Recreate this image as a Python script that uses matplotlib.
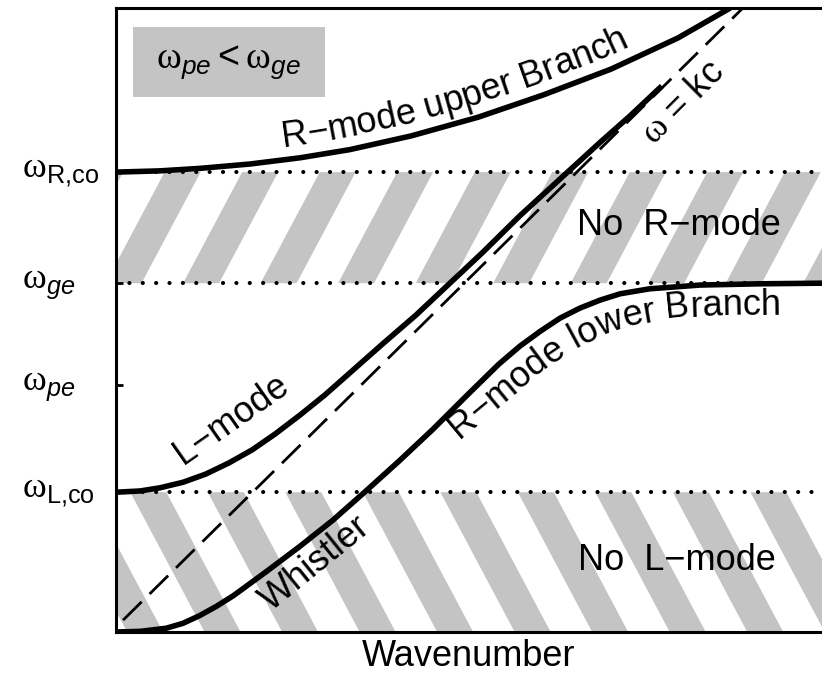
import numpy as np
import matplotlib
matplotlib.use('Agg')
import matplotlib.pyplot as plt
from matplotlib.patches import Rectangle
from matplotlib.font_manager import FontProperties, findfont
from matplotlib.ft2font import FT2Font

# ---------------- data (arbitrary units: wavenumber k 0..10, frequency w 0..10) -------------
w_Lco = 2.24
w_pe = 3.96
w_ge = 5.59
w_Rco = 7.37
levels = [w_Lco, w_pe, w_ge, w_Rco]
level_labels = [r'$\mathsf{\omega}_{\mathrm{L{,}co}}$', r'$\mathsf{\omega}_{pe}$',
                r'$\mathsf{\omega}_{ge}$', r'$\mathsf{\omega}_{\mathrm{R{,}co}}$']

# R-mode upper branch
k_upper = [0.00, 0.62, 1.19, 1.90, 2.61, 3.31, 4.18, 5.13, 6.06, 7.01, 7.96, 8.70]
w_upper = [7.37, 7.39, 7.43, 7.50, 7.60, 7.73, 7.95, 8.25, 8.61, 9.02, 9.52, 10.00]

# L-mode
k_L = [0.00, 0.34, 0.62, 0.95, 1.27, 1.60, 1.93, 2.25, 2.61, 2.96, 3.31, 3.78, 4.25,
       4.72, 5.20, 5.72, 6.29, 6.86, 7.28, 7.73]
w_L = [2.24, 2.26, 2.31, 2.40, 2.53, 2.71, 2.92, 3.17, 3.48, 3.80, 4.15, 4.62, 5.08,
       5.58, 6.09, 6.67, 7.26, 7.85, 8.27, 8.75]

# R-mode lower branch (whistler)
k_lower = [0.00, 0.34, 0.71, 0.95, 1.18, 1.42, 1.66, 2.12, 2.59, 3.07, 3.54, 4.01, 4.49,
           4.96, 5.42, 5.72, 6.01, 6.29, 6.57, 6.86, 7.14, 7.56, 8.27, 9.12, 10.00]
w_lower = [0.00, 0.01, 0.06, 0.14, 0.26, 0.41, 0.58, 0.96, 1.36, 1.79, 2.26, 2.74, 3.25,
           3.78, 4.29, 4.58, 4.82, 5.03, 5.19, 5.32, 5.42, 5.50, 5.56, 5.58, 5.59]

# light line w = kc
k_light = [0.10, 8.88]
w_light = [0.19, 10.00]

# baseline path of the "R-mode lower Branch" label
k_lowlab = [4.86, 6.01, 6.50, 6.93, 7.42, 7.99, 8.70, 9.90]
w_lowlab = [3.09, 4.17, 4.55, 4.78, 4.95, 5.05, 5.08, 5.10]

# ---------------- style ----------------
plt.rcParams['font.family'] = ['Liberation Sans', 'DejaVu Sans']
plt.rcParams['mathtext.fontset'] = 'custom'
plt.rcParams['mathtext.rm'] = 'Liberation Sans'
plt.rcParams['mathtext.it'] = 'Liberation Sans:italic'
plt.rcParams['mathtext.bf'] = 'Liberation Sans:bold'
plt.rcParams['mathtext.sf'] = 'Liberation Serif'

STIPPLE = '#c4c4c4'
LBL = 26

fig = plt.figure(figsize=(8.22, 6.8), dpi=100)
ax = fig.add_axes([116 / 822, 48 / 680, 706 / 822, 624 / 680])
ax.set_xlim(0, 10)
ax.set_ylim(0, 10)

# ---------------- striped (forbidden) bands ----------------
period, swidth, lean = 1.098, 0.51, 0.470
h = w_Rco - w_ge
for n in range(-3, 12):
    k0 = 0.95 + n * period
    ax.fill([k0, k0 + swidth, k0 + swidth + lean * h, k0 + lean * h],
            [w_ge, w_ge, w_Rco, w_Rco], color=STIPPLE, lw=0, zorder=1)
h = w_Lco
for n in range(-3, 12):
    k0 = 1.30 + n * period
    ax.fill([k0, k0 + swidth, k0 + swidth + lean * h, k0 + lean * h],
            [w_Lco, w_Lco, 0, 0], color=STIPPLE, lw=0, zorder=1)

# ---------------- dotted level lines ----------------
for lv in (w_Lco, w_ge, w_Rco):
    ax.axhline(lv, color='black', lw=3.0, linestyle=(0, (0.01, 3.2)),
               dash_capstyle='round', zorder=2)

# ---------------- curves ----------------
ax.plot(k_light, w_light, color='black', lw=2.0, linestyle=(0, (9.4, 4.0)), zorder=3)
ax.plot(k_upper, w_upper, color='black', lw=4.0, zorder=4, solid_capstyle='butt')
ax.plot(k_L, w_L, color='black', lw=4.0, zorder=4, solid_capstyle='butt')
ax.plot(k_lower, w_lower, color='black', lw=4.0, zorder=4, solid_capstyle='butt')


# ---------------- text along a path ----------------
def text_on_path(ax, s, k, w, k_start, offset, size, smooth=6):
    prop = FontProperties(family=['Liberation Sans', 'DejaVu Sans'], size=size)
    font = FT2Font(findfont(FontProperties(family='Liberation Sans')))
    font.set_size(size, fig.dpi)
    adv = []
    for ch in s:
        g = font.load_char(ord(ch))
        adv.append(g.linearHoriAdvance / 65536.0)
    cum = np.concatenate([[0], np.cumsum(adv)])
    P = ax.transData.transform(np.column_stack([k, w]))
    seg = np.hypot(*np.diff(P, axis=0).T)
    sa = np.concatenate([[0], np.cumsum(seg)])
    sd = np.linspace(0, sa[-1], 3000)
    X = np.interp(sd, sa, P[:, 0])
    Y = np.interp(sd, sa, P[:, 1])
    dx = np.gradient(X)
    dy = np.gradient(Y)
    nn = np.hypot(dx, dy)
    OX = X - offset * dy / nn
    OY = Y + offset * dx / nn
    so = np.concatenate([[0], np.cumsum(np.hypot(np.diff(OX), np.diff(OY)))])
    x0 = ax.transData.transform((k_start, 0))[0]
    i0 = int(np.argmin(np.abs(X - x0)))
    s0 = so[i0]
    inv = ax.transData.inverted()
    for i, ch in enumerate(s):
        if ch == ' ':
            continue
        c = s0 + (cum[i] + cum[i + 1]) / 2
        hh = max((cum[i + 1] - cum[i]) / 2, smooth)
        px, py = np.interp(c, so, OX), np.interp(c, so, OY)
        x1, y1 = np.interp(c - hh, so, OX), np.interp(c - hh, so, OY)
        x2, y2 = np.interp(c + hh, so, OX), np.interp(c + hh, so, OY)
        ang = np.degrees(np.arctan2(y2 - y1, x2 - x1))
        d = inv.transform((px, py))
        ax.text(d[0], d[1], ch, fontproperties=prop, rotation=ang,
                rotation_mode='anchor', ha='center', va='baseline', zorder=5)


text_on_path(ax, 'R\u2212mode upper Branch', k_upper, w_upper, 2.39, 13, LBL)
text_on_path(ax, 'R\u2212mode lower Branch', k_lowlab, w_lowlab, k_lowlab[0], 0, LBL, smooth=14)

ax.text(0.95, 2.68, 'L\u2212mode', rotation=35, rotation_mode='anchor',
        ha='left', va='baseline', fontsize=LBL, zorder=5)
ax.text(2.20, 0.32, 'Whistler', rotation=39, rotation_mode='anchor',
        ha='left', va='baseline', fontsize=LBL, zorder=5)
ax.text(8.03, 8.48, r'$\mathsf{\omega}$ = kc', rotation=45, rotation_mode='anchor',
        ha='center', va='center', fontsize=26, zorder=5)
ax.text(7.97, 6.51, 'No  R\u2212mode', ha='center', va='center', fontsize=26, zorder=5)
ax.text(7.95, 1.15, 'No  L\u2212mode', ha='center', va='center', fontsize=26, zorder=5)

# ---------------- legend-like box ----------------
ax.add_patch(Rectangle((0.024, 0.857), 0.272, 0.113, transform=ax.transAxes,
                       facecolor=STIPPLE, edgecolor='none', zorder=1))
ax.text(0.160, 0.913, r'$\mathsf{\omega}_{pe} < \mathsf{\omega}_{ge}$', transform=ax.transAxes,
        ha='center', va='center', fontsize=27, zorder=5)

# ---------------- axes ----------------
ax.set_xticks([])
ax.set_yticks(levels)
ax.set_yticklabels([''] * len(levels))
ax.tick_params(axis='y', direction='in', length=5, width=2)
for lv, lab in zip(levels, level_labels):
    ax.text(-0.133, lv - 0.08, lab, transform=ax.get_yaxis_transform(),
            ha='left', va='baseline', fontsize=26, clip_on=False)
ax.spines['right'].set_visible(False)
for sp in ('left', 'top', 'bottom'):
    ax.spines[sp].set_linewidth(2.2)
ax.set_xlabel('Wavenumber', fontsize=26, labelpad=5)

fig.savefig('out.png', dpi=100)
